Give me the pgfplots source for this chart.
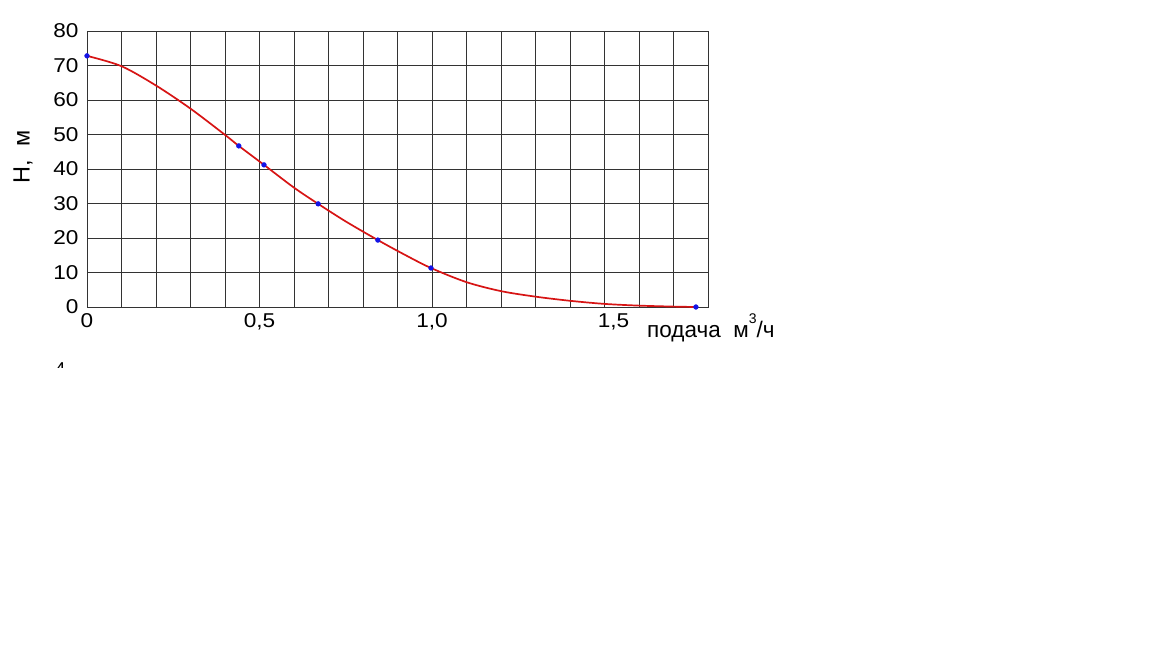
\documentclass[border=0pt]{standalone}
\usepackage{pgfplots}
\pgfplotsset{compat=1.18}
\usepackage{fontspec}
\setmainfont{Liberation Sans}
\definecolor{gridc}{gray}{0.2}
\definecolor{curvec}{RGB}{215,20,20}
\definecolor{dotc}{RGB}{20,20,230}
\begin{document}
\begin{tikzpicture}[x=1pt,y=1pt]
\path[use as bounding box, fill=white] (0,0) rectangle (1152,-648);
\begin{axis}[
  at={(87pt,-307pt)}, anchor=south west,
  scale only axis, width=621pt, height=276pt,
  xmin=0, xmax=1.8, ymin=0, ymax=80,
  xtick={0,0.5,1,1.5},
  xticklabels={0,{0,5},{1,0},{\hspace{16pt}1,5}},
  minor xtick={0,0.1,...,1.81},
  ytick={0,10,...,80},
  yticklabels={0,10,20,30,40,50,60,70,80},
  grid=both,
  major grid style={draw=gridc, line width=1.0pt},
  minor grid style={draw=gridc, line width=1.0pt},
  axis line style={draw=gridc, line width=1.0pt},
  major tick length=0pt, minor tick length=0pt,
  tick style={draw=none},
  ticklabel style={font=\fontsize{20}{22}\selectfont, xscale=1.13},
  yticklabel style={xshift=-4pt},
  xticklabel style={anchor=north, text height=14.5pt, text depth=0pt, yshift=-2pt},
  clip=false,
]
\addplot[curvec, line width=1.7pt, smooth] coordinates {
 (0,72.8) (0.1,69.8) (0.2,64.2) (0.3,57.5) (0.4,49.9) (0.44,46.7)
 (0.513,41.2) (0.6,34.6) (0.67,29.9) (0.75,24.8) (0.843,19.4)
 (0.92,15.2) (0.997,11.3) (1.1,7.2) (1.2,4.6) (1.3,3.0) (1.4,1.8)
 (1.5,0.9) (1.6,0.4) (1.7,0.12) (1.765,0)
};
\addplot[only marks, mark=*, mark size=2.4pt, draw=dotc, fill=dotc] coordinates {
 (0,72.8) (0.44,46.7) (0.513,41.2) (0.67,29.9) (0.843,19.4) (0.997,11.3) (1.765,0)
};
\end{axis}
\node[rotate=90, font=\fontsize{23.5}{25}\selectfont] at (23,-157) {H,\ \ м};
\node[anchor=base west, inner sep=0pt, font=\fontsize{22.5}{24}\selectfont] at (647,-337) {подача\ \ м\raisebox{0.62em}{\fontsize{14}{14}\selectfont 3}/ч};
\begin{scope}
\clip (40,-355) rectangle (80,-367.5);
\node[anchor=north west, inner sep=0pt, font=\fontsize{18.6}{20}\selectfont] at (55,-362) {4};
\end{scope}
\end{tikzpicture}
\end{document}
